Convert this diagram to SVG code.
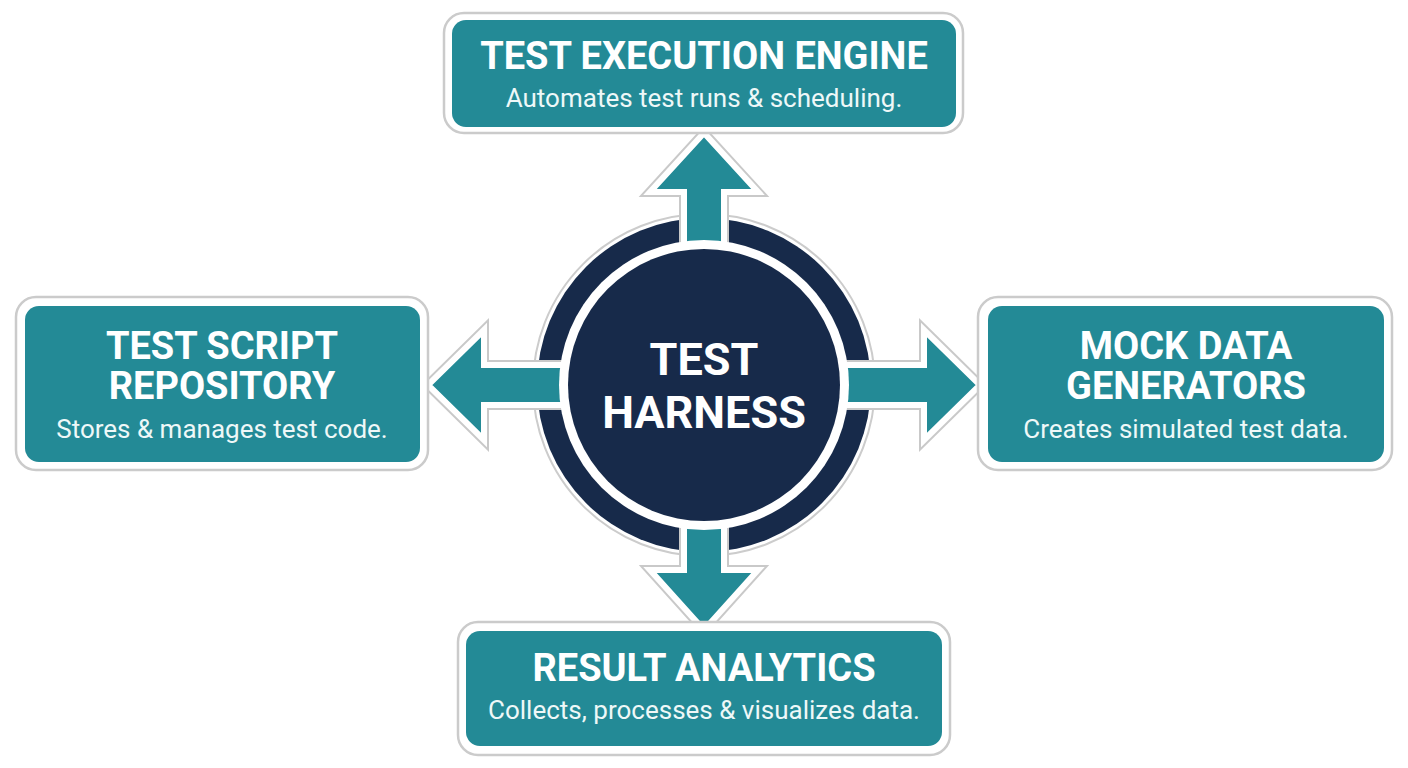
<svg xmlns="http://www.w3.org/2000/svg" width="1408" height="768" viewBox="0 0 1408 768">
  <style>
    .frame { fill: #ffffff; stroke: #cbcbcb; stroke-width: 2.5; }
    .box { fill: #238a96; }
    .title { font-family: Roboto, "Liberation Sans", sans-serif; font-weight: 700; font-size: 38px; fill: #ffffff; text-anchor: middle; }
    .sub { font-family: Roboto, "Liberation Sans", sans-serif; font-weight: 400; font-size: 26px; fill: #eef8f8; text-anchor: middle; }
    .center { font-family: Roboto, "Liberation Sans", sans-serif; font-weight: 700; font-size: 45px; fill: #ffffff; text-anchor: middle; }
    .arrowOut { fill: none; stroke: #c9c9c9; stroke-width: 10; stroke-linejoin: miter; }
    .arrowIn { fill: #238a96; stroke: #ffffff; stroke-width: 6; stroke-linejoin: miter; }
  </style>
  <rect width="1408" height="768" fill="#ffffff"/>

  <!-- hub outer ring -->
  <g id="hub-ring">
    <circle cx="704" cy="385" r="171" fill="#ffffff" stroke="#cccccc" stroke-width="2"/>
    <circle cx="704" cy="385" r="167" fill="#172a4a"/>
  </g>

  <g id="connectors">
    <g id="arrow-up">
      <path class="arrowOut" d="M684,245 L684,192 L650,192 L704,133 L758,192 L724,192 L724,245"/>
      <path class="arrowIn" d="M684,245 L684,192 L650,192 L704,133 L758,192 L724,192 L724,245 Z"/>
    </g>
    <g id="arrow-down">
      <path class="arrowOut" d="M684,525 L684,570 L650,570 L704,630 L758,570 L724,570 L724,525"/>
      <path class="arrowIn" d="M684,525 L684,570 L650,570 L704,630 L758,570 L724,570 L724,525 Z"/>
    </g>
    <g id="arrow-left">
      <path class="arrowOut" d="M565,365 L484,365 L484,330 L428,385 L484,440 L484,405 L565,405"/>
      <path class="arrowIn" d="M565,365 L484,365 L484,330 L428,385 L484,440 L484,405 L565,405 Z"/>
    </g>
    <g id="arrow-right">
      <path class="arrowOut" d="M843,365 L924,365 L924,330 L980,385 L924,440 L924,405 L843,405"/>
      <path class="arrowIn" d="M843,365 L924,365 L924,330 L980,385 L924,440 L924,405 L843,405 Z"/>
    </g>
  </g>

  <g id="hub">
    <circle cx="704" cy="385" r="145" fill="#ffffff"/>
    <circle cx="704" cy="385" r="136" fill="#172a4a"/>
    <text class="center" x="704" y="375">TEST</text>
    <text class="center" x="704" y="428">HARNESS</text>
  </g>

  <g id="node-execution">
    <rect class="frame" x="444" y="13" width="519" height="120" rx="20"/>
    <rect class="box" x="452" y="20" width="504" height="107" rx="14"/>
    <text class="title" x="704" y="69">TEST EXECUTION ENGINE</text>
    <text class="sub" x="704" y="107">Automates test runs &amp; scheduling.</text>
  </g>

  <g id="node-repository">
    <rect class="frame" x="16" y="297" width="412" height="173" rx="20"/>
    <rect class="box" x="25" y="306" width="395" height="156" rx="14"/>
    <text class="title" x="222" y="359">TEST SCRIPT</text>
    <text class="title" x="222" y="399">REPOSITORY</text>
    <text class="sub" x="222" y="438">Stores &amp; manages test code.</text>
  </g>

  <g id="node-mock">
    <rect class="frame" x="978" y="297" width="414" height="173" rx="20"/>
    <rect class="box" x="988" y="306" width="396" height="156" rx="14"/>
    <text class="title" x="1186" y="359">MOCK DATA</text>
    <text class="title" x="1186" y="399">GENERATORS</text>
    <text class="sub" x="1186" y="438">Creates simulated test data.</text>
  </g>

  <g id="node-analytics">
    <rect class="frame" x="458" y="622" width="492" height="133" rx="20"/>
    <rect class="box" x="466" y="631" width="476" height="115" rx="14"/>
    <text class="title" x="704" y="681">RESULT ANALYTICS</text>
    <text class="sub" x="704" y="719">Collects, processes &amp; visualizes data.</text>
  </g>
</svg>
